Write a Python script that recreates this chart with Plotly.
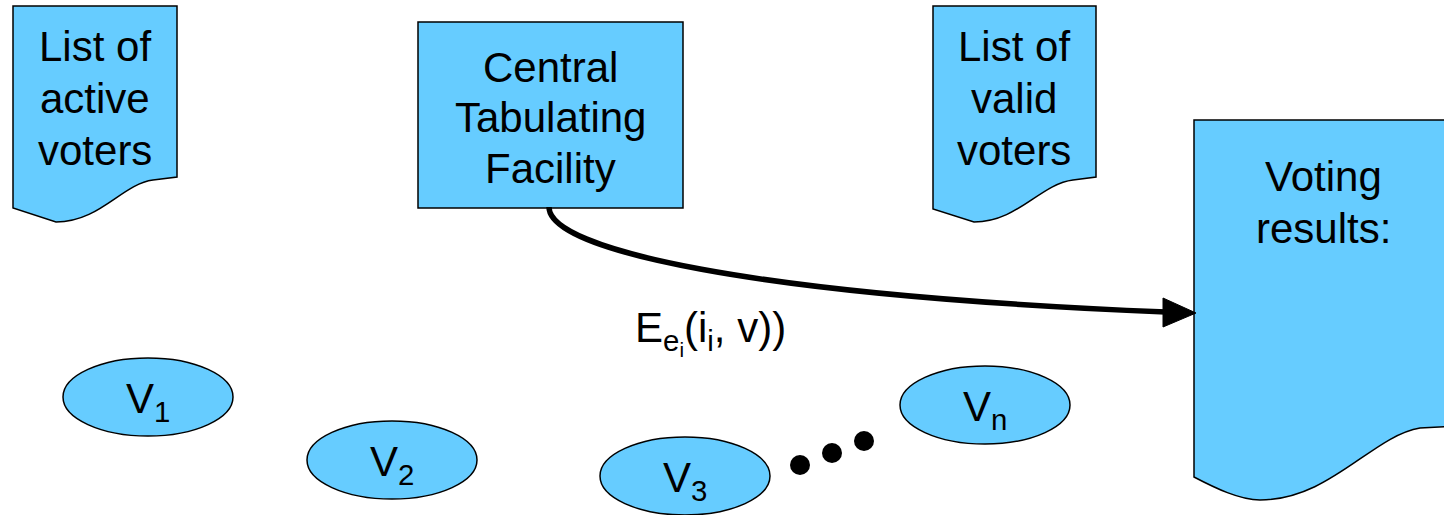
import plotly.graph_objects as go

# ---- diagram content -------------------------------------------------
doc_lines = [["List of", "active", "voters"], ["List of", "valid", "voters"], ["Voting", "results:"]]
doc_text_x = [95, 1014, 1323]
doc_text_y0 = [46, 46, 176]

box_lines = ["Central", "Tabulating", "Facility"]
box_x = [418, 683]
box_y = [22, 208]
box_text_y0 = 67

LINE_GAP = 52

voter_labels = ["V<sub>1</sub>", "V<sub>2</sub>", "V<sub>3</sub>", "V<sub>n</sub>"]
voter_cx = [148, 392, 685, 985]
voter_cy = [397, 460, 476, 405]
voter_rx = 85
voter_ry = 39

dots_x = [800, 832, 864]
dots_y = [465, 453, 441]

arrow_label = "E<sub>e<sub>i</sub></sub>(i<sub>i</sub>, v))"

FILL = "#66CCFF"
FONT = "Liberation Sans, Arial, sans-serif"
FS = 42

fig = go.Figure()
shapes = []

# document shapes (wavy bottoms)
doc_paths = [
    "M13,6 L177,6 L177,177 L153,180 C122,184 100,222 56,222 L13,208 Z",
    "M933,6 L1096,6 L1096,177 L1073,180 C1040,184 1018,222 974,222 L933,209 Z",
    "M1194,120 L1460,120 L1460,426 L1420,428 C1372,436 1330,500 1260,500 C1240,500 1215,488 1194,477 Z",
]
for p in doc_paths:
    shapes.append(dict(type="path", path=p, fillcolor=FILL,
                       line=dict(color="black", width=1.5), layer="below"))

# central box
shapes.append(dict(type="rect", x0=box_x[0], x1=box_x[1], y0=box_y[0], y1=box_y[1],
                   fillcolor=FILL, line=dict(color="black", width=1.5), layer="below"))

# voters
for cx, cy in zip(voter_cx, voter_cy):
    shapes.append(dict(type="circle", x0=cx - voter_rx, x1=cx + voter_rx,
                       y0=cy - voter_ry, y1=cy + voter_ry,
                       fillcolor=FILL, line=dict(color="black", width=1.5), layer="below"))

# dots
for dx, dy in zip(dots_x, dots_y):
    shapes.append(dict(type="circle", x0=dx - 10, x1=dx + 10, y0=dy - 10, y1=dy + 10,
                       fillcolor="black", line=dict(color="black", width=0)))

# curved arrow
shapes.append(dict(type="path", path="M549,207 C549,250 750,295 1166,312",
                   line=dict(color="black", width=5.5)))
shapes.append(dict(type="path", path="M1163,298 L1196,313 L1163,327 Z",
                   fillcolor="black", line=dict(color="black", width=1)))

annotations = []
def add_line(text, x, y, **kw):
    d = dict(x=x, y=y, text=text, showarrow=False, xanchor="center", yanchor="middle",
             font=dict(size=FS, color="black", family=FONT))
    d.update(kw)
    annotations.append(d)

for lines, x, y0 in zip(doc_lines, doc_text_x, doc_text_y0):
    for k, t in enumerate(lines):
        add_line(t, x, y0 + k * LINE_GAP)
for k, t in enumerate(box_lines):
    add_line(t, (box_x[0] + box_x[1]) / 2, box_text_y0 + k * 50.5)
for lab, cx, cy in zip(voter_labels, voter_cx, voter_cy):
    add_line(lab, cx, cy + 4)
add_line(arrow_label, 633, 332, xanchor="left")

fig.update_layout(
    width=1444, height=515,
    margin=dict(l=0, r=0, t=0, b=0),
    paper_bgcolor="white", plot_bgcolor="white",
    xaxis=dict(range=[0, 1444], visible=False, fixedrange=True),
    yaxis=dict(range=[515, 0], visible=False, fixedrange=True),
    shapes=shapes, annotations=annotations, showlegend=False,
)
fig.write_html("out.html", config={"displayModeBar": False},
               post_script="document.body.style.margin='0';document.body.style.overflow='hidden';")
